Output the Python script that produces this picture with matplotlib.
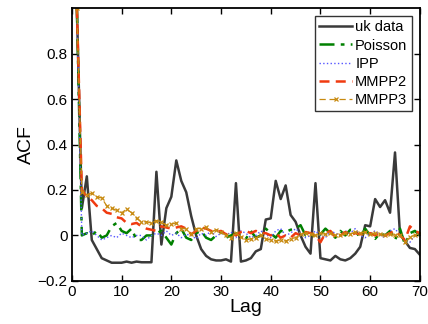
import numpy as np
import matplotlib
matplotlib.use('Agg')
import matplotlib.pyplot as plt

# Lags and ACF values
lags = list(range(1, 71))

uk_data = [1.0, 0.12, 0.26, -0.02, -0.06, -0.10, -0.11, -0.12, -0.12, -0.12,
           -0.115, -0.12, -0.115, -0.118, -0.118, -0.118, 0.28, -0.04, 0.12, 0.17,
           0.33, 0.24, 0.19, 0.085, 0.0, -0.06, -0.09, -0.105, -0.11, -0.11,
           -0.105, -0.115, 0.23, -0.115, -0.11, -0.10, -0.07, -0.06, 0.07, 0.075,
           0.24, 0.16, 0.22, 0.09, 0.06, 0.0, -0.05, -0.08, 0.23, -0.10,
           -0.105, -0.11, -0.09, -0.105, -0.11, -0.10, -0.08, -0.05, 0.045, 0.04,
           0.16, 0.125, 0.155, 0.10, 0.365, 0.005, -0.025, -0.055, -0.06, -0.085]

poisson = [1.0, 0.0, 0.01, 0.0, 0.02, -0.01, 0.0, 0.04, 0.055, 0.02,
           0.01, 0.03, -0.02, -0.02, 0.0, 0.0, 0.01, 0.02, -0.01, -0.04,
           0.01, 0.03, -0.01, -0.02, 0.01, 0.02, -0.01, -0.02, 0.0, 0.015,
           -0.01, 0.0, 0.01, 0.0, -0.015, 0.02, -0.01, 0.0, 0.03, 0.01,
           -0.01, 0.02, 0.015, 0.025, 0.03, 0.045, 0.0, 0.01, -0.01, 0.005,
           0.03, 0.01, -0.01, 0.02, 0.0, 0.025, 0.02, -0.01, 0.03, 0.0,
           -0.015, 0.01, 0.0, 0.02, -0.02, 0.03, -0.04, 0.01, 0.02, 0.0]

ipp = [1.0, 0.0, 0.01, 0.02, 0.0, -0.02, -0.01, 0.0, -0.01, 0.01,
       0.0, -0.01, 0.0, 0.0, -0.02, 0.0, 0.01, 0.0, 0.02, 0.0,
       0.01, -0.01, 0.005, 0.0, -0.015, 0.01, 0.0, 0.02, -0.005, 0.01,
       0.0, 0.015, -0.01, 0.02, 0.01, -0.01, 0.0, 0.02, 0.005, -0.01,
       0.02, 0.03, 0.0, 0.01, 0.03, 0.01, -0.01, 0.0, 0.02, 0.0,
       -0.01, 0.02, 0.01, 0.0, 0.02, 0.01, 0.03, 0.0, -0.01, 0.01,
       0.02, 0.0, -0.01, 0.02, 0.03, 0.0, -0.02, -0.03, 0.0, 0.01]

mmpp2 = [1.0, 0.2, 0.17, 0.155, 0.13, 0.12, 0.1, 0.095, 0.08, 0.075,
         0.055, 0.05, 0.055, 0.04, 0.03, 0.025, 0.02, 0.04, 0.035, 0.03,
         0.035, 0.04, 0.03, 0.005, 0.02, 0.035, 0.03, 0.02, 0.015, 0.02,
         0.005, 0.01, 0.0, 0.015, 0.02, 0.01, 0.02, 0.01, 0.01, 0.0,
         0.01, -0.01, 0.0, -0.01, 0.01, 0.0, 0.015, 0.01, 0.0, -0.03,
         0.01, 0.02, -0.01, 0.0, 0.015, 0.0, 0.01, 0.005, 0.01, 0.01,
         0.0, 0.01, 0.0, 0.01, 0.02, 0.0, -0.02, 0.04, 0.02, 0.01]

mmpp3 = [1.0, 0.19, 0.18, 0.185, 0.17, 0.165, 0.13, 0.12, 0.11, 0.1,
         0.115, 0.1, 0.075, 0.06, 0.06, 0.055, 0.065, 0.06, 0.045, 0.05,
         0.055, 0.03, 0.03, 0.005, 0.03, 0.03, 0.035, 0.015, 0.025, 0.015,
         0.0, -0.01, 0.01, -0.005, -0.02, -0.015, -0.01, 0.0, -0.015, -0.02,
         -0.025, -0.02, -0.025, -0.015, -0.01, 0.005, 0.01, 0.005, 0.0, 0.01,
         0.005, 0.01, 0.0, 0.0, 0.01, 0.005, 0.015, 0.01, 0.015, 0.005,
         0.01, 0.005, 0.0, 0.005, 0.0, 0.0, -0.03, -0.005, 0.0, 0.01]

x_ticks = [0, 10, 20, 30, 40, 50, 60, 70]
y_ticks = [-0.2, 0, 0.2, 0.4, 0.6, 0.8]

plt.rcParams['font.family'] = ['Liberation Sans', 'DejaVu Sans']

fig = plt.figure(figsize=(4.28, 3.24), dpi=100)
ax = fig.add_axes([0.168, 0.133, 0.813, 0.842])

ax.plot(lags, uk_data, color='#3a3a3a', lw=1.8, label='uk data')
ax.plot(lags, poisson, color='#008000', lw=1.8, ls=(0, (6, 2.5, 1.5, 2.5)),
        label='Poisson')
ax.plot(lags, ipp, color='#5555ff', lw=1.0, ls=':', label='IPP')
ax.plot(lags, mmpp2, color='#f03a10', lw=1.8, ls=(0, (4, 2.5)), label='MMPP2')
ax.plot(lags, mmpp3, color='#c88a10', lw=0.9, ls=(0, (5, 3)), marker='x',
        ms=3, mew=0.9, label='MMPP3')

ax.set_xlim(0, 70)
ax.set_ylim(-0.2, 1.0)
ax.set_xticks(x_ticks)
ax.set_yticks(y_ticks)
ax.set_yticklabels(['\u22120.2', '0', '0.2', '0.4', '0.6', '0.8'])
ax.tick_params(direction='in', top=True, right=True, labelsize=11,
               length=4, width=1.0, pad=3)
for s in ax.spines.values():
    s.set_linewidth(1.3)

ax.set_xlabel('Lag', fontsize=14, labelpad=0)
ax.set_ylabel('ACF', fontsize=14, labelpad=2)

leg = ax.legend(loc='upper right', fontsize=10.5, frameon=True, fancybox=False,
                edgecolor='black', handlelength=2.2, handletextpad=0.25,
                borderpad=0.3, labelspacing=0.28, borderaxespad=0.55)
leg.get_frame().set_linewidth(1.0)

fig.savefig('out.png', dpi=100)
